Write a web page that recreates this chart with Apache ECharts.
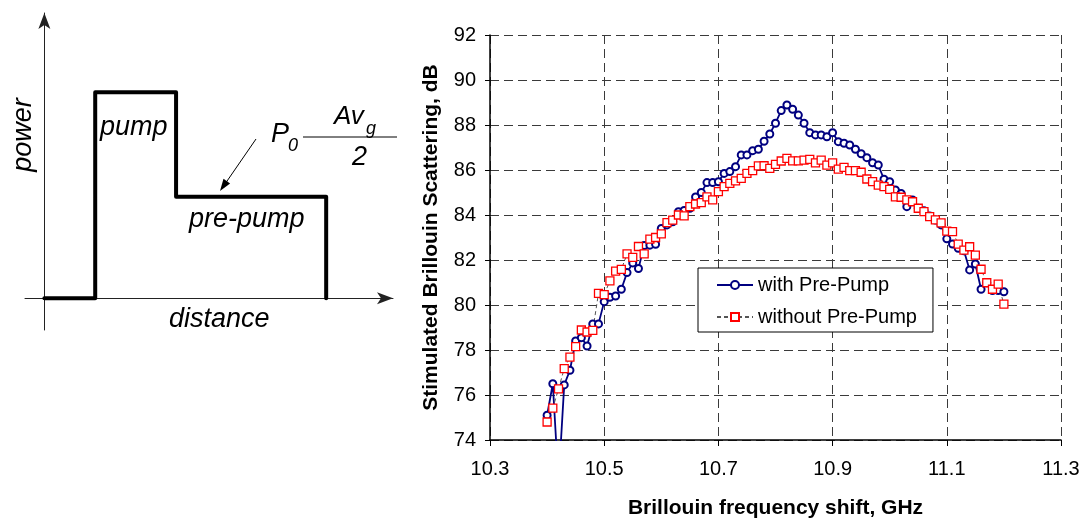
<!DOCTYPE html>
<html>
<head>
<meta charset="utf-8">
<title>Brillouin scattering with pre-pump</title>
<script src="https://cdn.jsdelivr.net/npm/echarts@6.0.0/dist/echarts.min.js"></script>
<style>
  html, body { margin: 0; padding: 0; background: #fff; }
  #chart { width: 1083px; height: 520px; }
</style>
</head>
<body>
<div id="chart"></div>
<script>
// frequency shift, GHz
var freq = [
  10.40, 10.41, 10.42, 10.43, 10.44, 10.45, 10.46, 10.47, 10.48, 10.49,
  10.50, 10.51, 10.52, 10.53, 10.54, 10.55, 10.56, 10.57, 10.58, 10.59,
  10.60, 10.61, 10.62, 10.63, 10.64, 10.65, 10.66, 10.67, 10.68, 10.69,
  10.70, 10.71, 10.72, 10.73, 10.74, 10.75, 10.76, 10.77, 10.78, 10.79,
  10.80, 10.81, 10.82, 10.83, 10.84, 10.85, 10.86, 10.87, 10.88, 10.89,
  10.90, 10.91, 10.92, 10.93, 10.94, 10.95, 10.96, 10.97, 10.98, 10.99,
  11.00, 11.01, 11.02, 11.03, 11.04, 11.05, 11.06, 11.07, 11.08, 11.09,
  11.10, 11.11, 11.12, 11.13, 11.14, 11.15, 11.16, 11.17, 11.18, 11.19,
  11.20
];
// SBS with pre-pump, dB
var withPrePump = [
  75.1, 76.5, 72.1, 76.45, 77.1, 78.4, 78.55, 78.18, 79.16, 79.16,
  80.15, 80.34, 80.4, 80.7, 81.44, 81.87, 81.62, 82.64, 82.66, 82.7,
  83.4, 83.56, 83.7, 84.15, 84.2, 84.3, 84.8, 85.0, 85.44, 85.44,
  85.48, 85.85, 85.93, 86.15, 86.67, 86.67, 86.86, 86.92, 87.28, 87.6,
  88.08, 88.64, 88.89, 88.7, 88.44, 88.08, 87.66, 87.56, 87.56, 87.48,
  87.66, 87.26, 87.19, 87.11, 86.92, 86.72, 86.55, 86.32, 86.22, 85.59,
  85.48, 85.11, 84.96, 84.37, 84.67, 84.3, 84.19, 83.96, 83.78, 83.56,
  82.94, 82.71, 82.52, 82.41, 81.56, 81.82, 80.7, 80.99, 80.64, 80.64,
  80.59
];
// SBS without pre-pump, dB
var withoutPrePump = [
  74.8, 75.42, 76.27, 77.17, 77.68, 78.15, 78.89, 78.8, 78.87, 80.52,
  80.46, 81.07, 81.51, 81.58, 82.27, 82.12, 82.6, 82.27, 82.93, 83.0,
  83.16, 83.66, 83.77, 84.0, 83.96, 84.37, 84.49, 84.55, 84.81, 84.67,
  85.04, 85.26, 85.41, 85.52, 85.63, 85.85, 85.97, 86.18, 86.19, 86.07,
  86.25, 86.4, 86.52, 86.41, 86.41, 86.44, 86.47, 86.32, 86.44, 86.22,
  86.32, 86.04, 86.12, 85.97, 85.97, 85.9, 85.6, 85.48, 85.33, 85.26,
  85.14, 84.81, 84.79, 84.67, 84.59, 84.3, 84.15, 83.93, 83.78, 83.65,
  83.28, 83.26, 82.71, 82.44, 82.59, 82.22, 81.59, 80.99, 80.7, 80.93,
  80.04
];
var seriesNames = ['with Pre-Pump', 'without Pre-Pump'];

// schematic pulse: pump then pre-pump
var pulseDistance = [0, 1.05, 1.05, 2.72, 2.72, 5.82, 5.82];
var pulsePower = [0, 0, 6.5, 6.5, 3.2, 3.2, 0];

function pairs(xs, ys) {
  var out = [];
  for (var i = 0; i < xs.length; i++) out.push([xs[i], ys[i]]);
  return out;
}

var font = 'Liberation Sans, Arial, sans-serif';
var gridDash = { color: '#3a3a3a', width: 1, type: [9, 5] };

var myChart = echarts.init(document.getElementById('chart'));
var option = {
  animation: false,
  backgroundColor: '#fff',
  textStyle: { fontFamily: font, color: '#000' },
  grid: [
    // main plot
    { left: 490, right: 22, top: 35, bottom: 80, outerBoundsMode: 'none' },
    // schematic
    { left: 25, top: 13, width: 368, height: 317, outerBoundsMode: 'none' }
  ],
  xAxis: [
    {
      type: 'value', gridIndex: 0,
      min: 10.3, max: 11.3, interval: 0.2,
      name: 'Brillouin frequency shift, GHz',
      nameLocation: 'middle', nameGap: 58,
      nameTextStyle: { fontSize: 21, fontWeight: 'bold', color: '#000' },
      axisLine: { onZero: false, lineStyle: { color: '#000', width: 1.5 } },
      axisTick: { inside: false, length: 6, lineStyle: { color: '#000' } },
      axisLabel: {
        fontSize: 20, color: '#000', margin: 19,
        formatter: function (v) { return v.toFixed(1); }
      },
      splitLine: { show: true, lineStyle: gridDash }
    },
    {
      type: 'value', gridIndex: 1,
      min: -0.4, max: 7.2,
      axisLine: {
        onZero: true, symbol: ['none', 'arrow'], symbolSize: [9, 16],
        lineStyle: { color: '#222', width: 1 }
      },
      axisTick: { show: false }, axisLabel: { show: false },
      splitLine: { show: false }
    }
  ],
  yAxis: [
    {
      type: 'value', gridIndex: 0,
      min: 74, max: 92, interval: 2,
      name: 'Stimulated Brillouin Scattering, dB',
      nameLocation: 'middle', nameGap: 48, nameRotate: 90,
      nameTextStyle: { fontSize: 21, fontWeight: 'bold', color: '#000' },
      axisLine: { show: true, onZero: false, lineStyle: { color: '#000', width: 1.5 } },
      axisTick: { show: true, inside: false, length: 5, lineStyle: { color: '#000' } },
      axisLabel: { fontSize: 20, color: '#000', margin: 14 },
      splitLine: { show: true, lineStyle: gridDash }
    },
    {
      type: 'value', gridIndex: 1,
      min: -1, max: 9,
      axisLine: {
        show: true, onZero: true, symbol: ['none', 'arrow'], symbolSize: [9, 16],
        lineStyle: { color: '#222', width: 1 }
      },
      axisTick: { show: false }, axisLabel: { show: false },
      splitLine: { show: false }
    }
  ],
  legend: {
    data: seriesNames,
    orient: 'vertical',
    left: 698, top: 268,
    padding: [6, 16, 4, 18],
    itemWidth: 36, itemHeight: 10, itemGap: 10,
    borderColor: '#000', borderWidth: 1, borderRadius: 0,
    backgroundColor: '#fff',
    textStyle: { fontSize: 20, color: '#000', lineHeight: 22 }
  },
  series: [
    {
      name: seriesNames[0], type: 'line',
      xAxisIndex: 0, yAxisIndex: 0,
      data: pairs(freq, withPrePump),
      symbol: 'emptyCircle', symbolSize: 7, showAllSymbol: true,
      lineStyle: { color: '#000080', width: 1.8 },
      itemStyle: { color: '#000080', borderColor: '#000080', borderWidth: 1.2 },
      clip: true
    },
    {
      name: seriesNames[1], type: 'line',
      xAxisIndex: 0, yAxisIndex: 0,
      data: pairs(freq, withoutPrePump),
      symbol: 'rect', symbolSize: 8, showAllSymbol: true,
      lineStyle: { color: '#555', width: 1, type: [4, 3] },
      itemStyle: { color: '#fff', borderColor: '#ff0000', borderWidth: 1.3 },
      clip: true
    },
    {
      name: 'pulse', type: 'line',
      xAxisIndex: 1, yAxisIndex: 1,
      data: pairs(pulseDistance, pulsePower),
      symbol: 'none',
      lineStyle: { color: '#000', width: 4, cap: 'round', join: 'round' },
      silent: true
    }
  ],
  graphic: [
    { type: 'text', x: 23, y: 135, rotation: Math.PI / 2,
      style: { text: 'power', fontSize: 27, fontStyle: 'italic', fontFamily: font,
               fill: '#000', align: 'center', verticalAlign: 'middle' } },
    { type: 'text', x: 100, y: 127,
      style: { text: 'pump', fontSize: 27, fontStyle: 'italic', fontFamily: font,
               fill: '#000', align: 'left', verticalAlign: 'middle' } },
    { type: 'text', x: 189, y: 219,
      style: { text: 'pre-pump', fontSize: 27, fontStyle: 'italic', fontFamily: font,
               fill: '#000', align: 'left', verticalAlign: 'middle' } },
    { type: 'text', x: 169, y: 319,
      style: { text: 'distance', fontSize: 27, fontStyle: 'italic', fontFamily: font,
               fill: '#000', align: 'left', verticalAlign: 'middle' } },
    { type: 'text', x: 271, y: 134,
      style: { text: 'P', fontSize: 27, fontStyle: 'italic', fontFamily: font,
               fill: '#000', align: 'left', verticalAlign: 'middle' } },
    { type: 'text', x: 288, y: 146,
      style: { text: '0', fontSize: 18, fontStyle: 'italic', fontFamily: font,
               fill: '#000', align: 'left', verticalAlign: 'middle' } },
    { type: 'text', x: 334, y: 117,
      style: { text: 'Av', fontSize: 26, fontStyle: 'italic', fontFamily: font,
               fill: '#000', align: 'left', verticalAlign: 'middle' } },
    { type: 'text', x: 366, y: 129,
      style: { text: 'g', fontSize: 18, fontStyle: 'italic', fontFamily: font,
               fill: '#000', align: 'left', verticalAlign: 'middle' } },
    { type: 'text', x: 352, y: 157,
      style: { text: '2', fontSize: 27, fontStyle: 'italic', fontFamily: font,
               fill: '#000', align: 'left', verticalAlign: 'middle' } },
    { type: 'line', shape: { x1: 303, y1: 137, x2: 397, y2: 137 },
      style: { stroke: '#000', lineWidth: 1 } },
    // pointer arrow to the pre-pump level
    { type: 'line', shape: { x1: 256, y1: 139, x2: 225, y2: 184 },
      style: { stroke: '#000', lineWidth: 1 } },
    { type: 'polygon', shape: { points: [[220, 191], [230.1, 183.4], [223.5, 178.8]] },
      style: { fill: '#000' } }
  ]
};
myChart.setOption(option);
window.onresize = myChart.resize;
</script>
</body>
</html>
